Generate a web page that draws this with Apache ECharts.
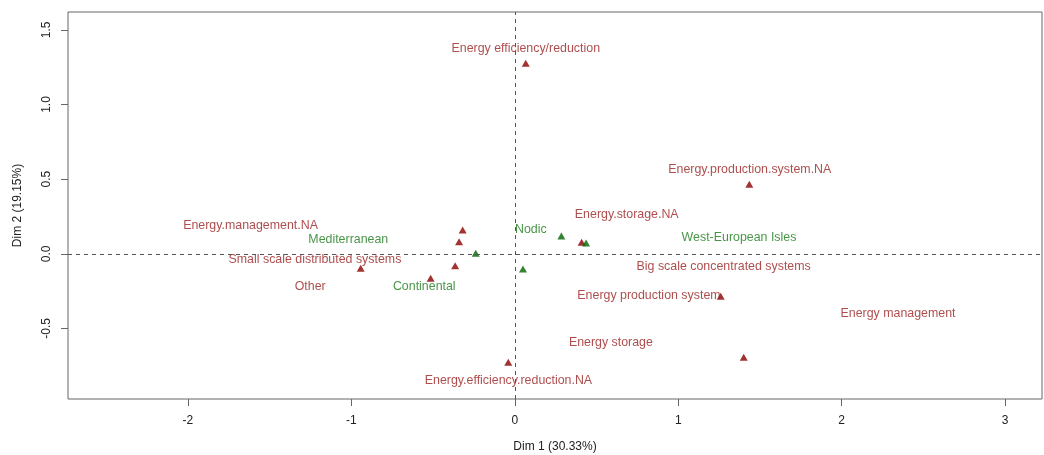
<!DOCTYPE html>
<html>
<head>
<meta charset="utf-8">
<script src="https://cdn.jsdelivr.net/npm/echarts@6/dist/echarts.min.js"></script>
<style>
  html, body { margin: 0; padding: 0; background: #fff; }
  #chart { width: 1044px; height: 455px; }
</style>
</head>
<body>
<div id="chart"></div>
<script>
// MCA factor map: category coordinates on Dim 1 / Dim 2
const catNames = [
  'Energy efficiency/reduction', 'Energy.production.system.NA', 'Energy.storage.NA',
  'Energy.management.NA', 'Small scale distributed systems', 'Other',
  'Big scale concentrated systems', 'Energy production system', 'Energy management',
  'Energy storage', 'Energy.efficiency.reduction.NA',
  'Mediterranean', 'Nodic', 'Continental', 'West-European Isles'
];
const catGroup = [
  'var', 'var', 'var', 'var', 'var', 'var', 'var', 'var', 'var', 'var', 'var',
  'sup', 'sup', 'sup', 'sup'
];
// point coordinates
const dim1 = [0.067, 1.435, 0.409, -0.319, -0.943, -0.515, -0.341, 1.260, 1.401, -0.365, -0.040,
              -0.239, 0.285, 0.050, 0.436];
const dim2 = [1.276, 0.466, 0.077, 0.159, -0.097, -0.164, 0.081, -0.285, -0.693, -0.080, -0.727,
              0.003, 0.119, -0.102, 0.072];
// label anchor coordinates (after overlap avoidance)
const labDim1 = [0.067, 1.438, 0.685, -1.617, -1.223, -1.252, 1.278, 0.821, 2.345, 0.588, -0.039,
                 -1.019, 0.098, -0.554, 1.372];
const labDim2 = [1.372, 0.561, 0.260, 0.186, -0.042, -0.220, -0.086, -0.283, -0.403, -0.595, -0.847,
                 0.097, 0.164, -0.220, 0.111];

const xTicks = [-2, -1, 0, 1, 2, 3];
const yTicks = [-0.5, 0, 0.5, 1, 1.5];
const xRange = [-2.734, 3.226];
const yRange = [-0.9725, 1.6195];
const xTitle = 'Dim 1 (30.33%)';
const yTitle = 'Dim 2 (19.15%)';

const pointColor = { var: '#8B0000', sup: '#006400' };
const textColor = { var: '#9a2020', sup: '#1a7a1a' };
const FONT = '"Liberation Sans", Arial, sans-serif';

function pointsOf(g) {
  const out = [];
  catNames.forEach((n, i) => { if (catGroup[i] === g) out.push([dim1[i], dim2[i], n]); });
  return out;
}
function labelsOf(g) {
  const out = [];
  catNames.forEach((n, i) => { if (catGroup[i] === g) out.push([labDim1[i], labDim2[i], n]); });
  return out;
}

const series = [];
['var', 'sup'].forEach(g => {
  series.push({
    type: 'scatter',
    symbol: 'triangle',
    symbolSize: [8, 7],
    itemStyle: { color: pointColor[g] },
    data: pointsOf(g),
    z: 3
  });
  series.push({
    type: 'scatter',
    symbolSize: 0,
    silent: true,
    data: labelsOf(g),
    label: {
      show: true,
      position: 'inside',
      formatter: p => p.value[2],
      color: textColor[g],
      fontSize: 12.4,
      fontFamily: FONT
    },
    z: 4
  });
});
// dashed reference lines through the origin
series.push({
  type: 'scatter',
  data: [],
  markLine: {
    silent: true,
    symbol: 'none',
    label: { show: false },
    lineStyle: { type: [4, 4], color: '#555', width: 1 },
    data: [{ xAxis: 0 }, { yAxis: 0 }]
  }
});

const axisText = { color: '#222', fontSize: 12, fontFamily: FONT };

const option = {
  animation: false,
  grid: {
    left: 68, right: 2, top: 12, bottom: 56,
    outerBoundsMode: 'none',
    show: true, borderColor: '#666', borderWidth: 1
  },
  xAxis: {
    type: 'value',
    min: xRange[0], max: xRange[1],
    splitLine: { show: false },
    axisLine: { show: false, onZero: false },
    axisTick: { show: true, customValues: xTicks, length: 7, lineStyle: { color: '#666' } },
    axisLabel: Object.assign({ customValues: xTicks, margin: 16, formatter: v => String(v) }, axisText),
    name: xTitle,
    nameLocation: 'middle',
    nameGap: 42,
    nameTextStyle: axisText
  },
  yAxis: {
    type: 'value',
    min: yRange[0], max: yRange[1],
    splitLine: { show: false },
    axisLine: { show: false, onZero: false },
    axisTick: { show: true, customValues: yTicks, length: 7, lineStyle: { color: '#666' } },
    axisLabel: Object.assign({ customValues: yTicks, margin: 15, rotate: 90, formatter: v => v.toFixed(1) }, axisText),
    name: yTitle,
    nameLocation: 'middle',
    nameGap: 44,
    nameTextStyle: axisText
  },
  series: series
};

const chart = echarts.init(document.getElementById('chart'), null, { renderer: 'canvas' });
chart.setOption(option);
</script>
</body>
</html>
